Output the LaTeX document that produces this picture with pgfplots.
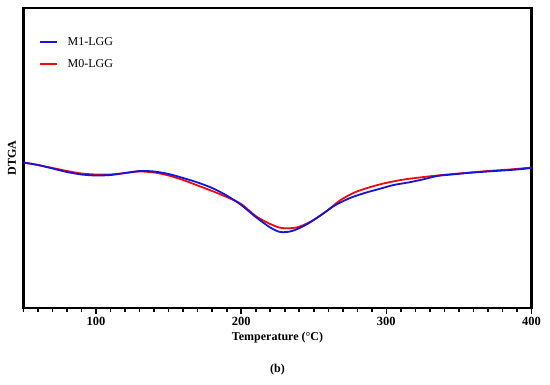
\documentclass[border=0pt]{standalone}
\usepackage{pgfplots}
\pgfplotsset{compat=1.18}
\usepackage{fontspec}
\setmainfont{Liberation Serif}
\definecolor{cblue}{RGB}{20,20,220}
\definecolor{cred}{RGB}{240,10,10}
\begin{document}
\begin{tikzpicture}
\begin{axis}[
  width=508pt, height=300pt, scale only axis,
  xmin=50, xmax=400, ymin=0, ymax=300,
  xtick={100,200,300,400},
  minor xtick={50,60,...,400},
  ytick=\empty,
  axis line style={line width=2.2pt},
  every tick/.style={black, line width=1.6pt},
  tick align=outside,
  xtick pos=bottom,
  major tick length=6pt,
  minor tick length=4pt,
  /pgf/number format/assume math mode=true,
  /pgf/number format/1000 sep={},
  ticklabel style={font=\fontsize{12.5}{14}\selectfont\bfseries},
  xlabel={Temperature (°C)},
  ylabel={DTGA},
  label style={font=\fontsize{12}{14}\selectfont\bfseries},
  xlabel style={yshift=1pt},
  ylabel style={yshift=-2pt},
  legend style={draw=none, fill=none, at={(0.03,0.91)}, anchor=north west,
    font=\fontsize{12}{13}\selectfont, row sep=9pt, inner sep=0pt,
    cells={anchor=west}},
  legend image code/.code={\draw[#1] (0pt,0pt) -- (17pt,0pt); \path (25pt,0pt);},
  reverse legend,
]
\addplot[cred, line width=1.8pt, smooth] coordinates {
(50,145.5)(60,143)(70,140)(80,137)(90,134.5)(100,133.5)(110,133.5)(120,135)
(130,136.5)(140,135.5)(150,132.5)(160,128)(170,122.5)(180,117)(190,111)
(200,104)(210,92)(220,84)(228,80)(238,80.5)(248,86.5)(258,96)(268,107.5)
(278,115.5)(288,120.5)(298,124.5)(310,128)(320,130)(335,132.5)(350,134.5)
(370,137)(385,138.5)(400,140.5)};
\addlegendentry{M0-LGG}
\addplot[cblue, line width=1.8pt, smooth] coordinates {
(50,145.5)(60,143)(70,139.5)(80,136)(90,133.5)(100,132.5)(110,133)(120,135)
(130,137)(140,136.5)(150,134)(160,130)(170,125.5)(180,120)(190,112.5)
(200,103)(210,91)(220,80.5)(227,76)(235,77)(245,83.5)(255,93)(265,103)
(275,110)(285,115)(295,119)(305,123)(315,125.5)(325,128.5)(335,132)
(345,133.5)(360,135.5)(375,137)(390,138.5)(400,140)};
\addlegendentry{M1-LGG}
\end{axis}
\pgfresetboundingbox
\path ([shift={(-23.5pt,-76pt)}]current axis.south west) rectangle ([shift={(18.5pt,8pt)}]current axis.north east);
\node[font=\fontsize{12}{14}\selectfont\bfseries] at ([yshift=-62pt]current axis.south) {(b)};
\end{tikzpicture}
\end{document}
